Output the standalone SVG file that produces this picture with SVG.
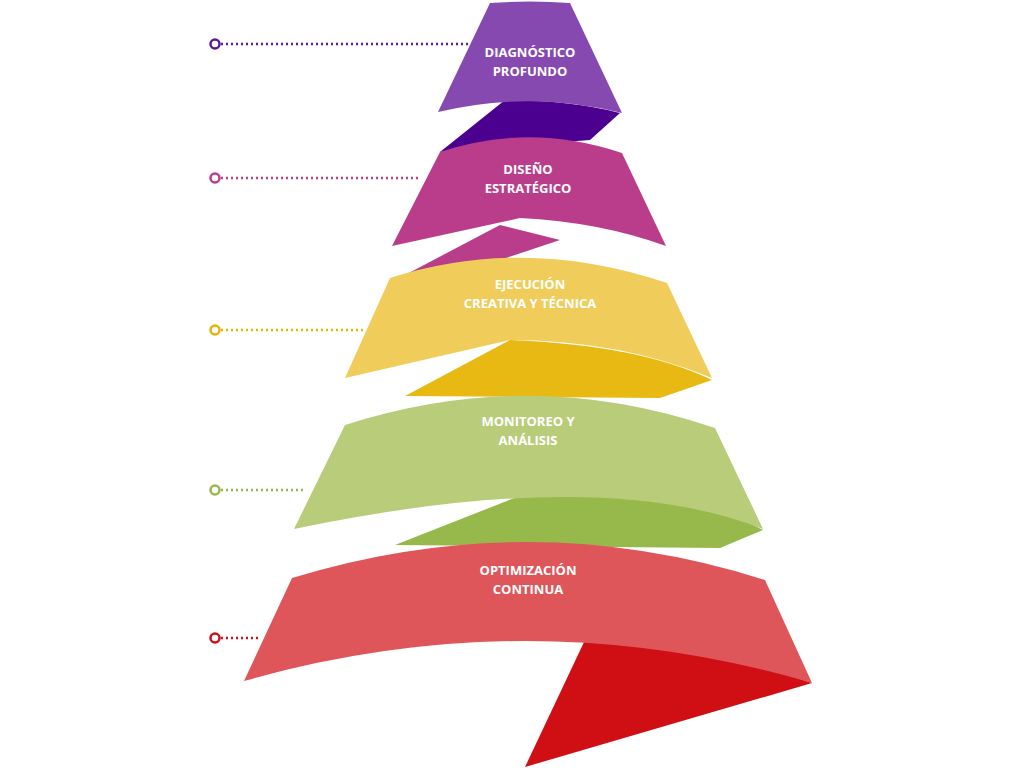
<svg xmlns="http://www.w3.org/2000/svg" width="1024" height="768" viewBox="0 0 1024 768">
<style>
.t{font-family:"Open Sans","Liberation Sans",sans-serif;font-weight:700;font-size:13px;fill:#fff;text-anchor:middle}
.l{stroke-width:2.5;stroke-dasharray:2 3;fill:none}
.c{fill:#fff;stroke-width:2.5}
</style>
<rect width="1024" height="768" fill="#fff"/>
<g id="connectors">
<line class="l" x1="221" y1="44" x2="470" y2="44" stroke="#5c1a9c"/><circle class="c" cx="215" cy="44" r="4.5" stroke="#5c1a9c"/>
<line class="l" x1="221" y1="178" x2="420" y2="178" stroke="#b93d8a"/><circle class="c" cx="215" cy="178" r="4.5" stroke="#b93d8a"/>
<line class="l" x1="221" y1="330" x2="365" y2="330" stroke="#e8b400"/><circle class="c" cx="215" cy="330" r="4.5" stroke="#e8b400"/>
<line class="l" x1="221" y1="490" x2="305" y2="490" stroke="#97b84a"/><circle class="c" cx="215" cy="490" r="4.5" stroke="#97b84a"/>
<line class="l" x1="221" y1="638" x2="258" y2="638" stroke="#cc1018"/><circle class="c" cx="215" cy="638" r="4.5" stroke="#cc1018"/>
</g>
<g id="back">
<path d="M440,152 L505,100 Q570,100 620,113 L590,140 Z" fill="#4b0090"/>
<path d="M405,275 L500,225 L560,240 L470,270 Z" fill="#b93d8a"/>
<path d="M405,396 L510,340 Q640,345 712,380 L660,398 Z" fill="#e9b913"/>
<path d="M395,545 L555,482 Q700,495 763,530 L720,548 Z" fill="#97b84a"/>
<path d="M525,767 L585,640 Q720,650 812,683 Z" fill="#cf0f14"/>
</g>
<g id="n1"><path d="M490,3 Q530,0 570,3 L622,113 Q530,90 438,112 Z" fill="#8549b0"/>
<text class="t" x="530" y="57">DIAGNÓSTICO</text><text class="t" x="530" y="76">PROFUNDO</text></g>
<g id="n2"><path d="M440,152 Q530,122 622,153 L666,246 Q600,222 520,218 L392,246 Z" fill="#b93d8a"/>
<text class="t" x="528" y="174">DISEÑO</text><text class="t" x="528" y="193">ESTRATÉGICO</text></g>
<g id="n3"><path d="M390,278 Q525,235 667,283 L712,378 Q620,340 510,340 L345,378 Z" fill="#f0cc5a"/>
<text class="t" x="530" y="289">EJECUCIÓN</text><text class="t" x="530" y="308">CREATIVA Y TÉCNICA</text></g>
<g id="n4"><path d="M345,425 Q530,365 715,428 L763,529 Q600,465 294,529 Z" fill="#b8cc7a"/>
<text class="t" x="528" y="426">MONITOREO Y</text><text class="t" x="528" y="445">ANÁLISIS</text></g>
<g id="n5"><path d="M292,578 Q530,505 765,580 L812,683 Q530,600 244,681 Z" fill="#de5659"/>
<text class="t" x="528" y="575">OPTIMIZACIÓN</text><text class="t" x="528" y="594">CONTINUA</text></g>
</svg>
